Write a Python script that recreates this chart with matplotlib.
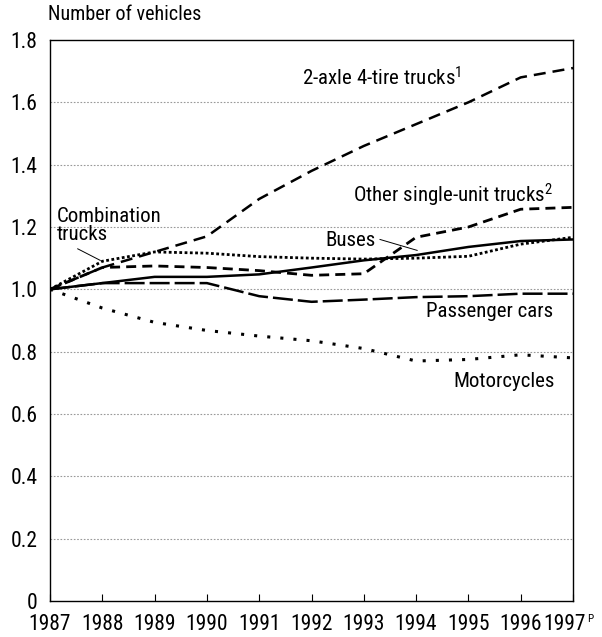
import matplotlib
matplotlib.use("Agg")
import matplotlib.pyplot as plt
from matplotlib import font_manager

years = [1987, 1988, 1989, 1990, 1991, 1992, 1993, 1994, 1995, 1996, 1997]
year_labels = ["1987", "1988", "1989", "1990", "1991", "1992", "1993", "1994", "1995", "1996", ""]
two_axle = [1.00, 1.07, 1.12, 1.17, 1.29, 1.38, 1.46, 1.53, 1.60, 1.68, 1.71]
other_single = [1.00, 1.07, 1.075, 1.07, 1.06, 1.045, 1.05, 1.167, 1.20, 1.257, 1.263]
combination = [1.00, 1.09, 1.12, 1.116, 1.105, 1.10, 1.097, 1.10, 1.106, 1.145, 1.167]
buses = [1.00, 1.02, 1.04, 1.04, 1.048, 1.07, 1.093, 1.11, 1.136, 1.155, 1.16]
passenger = [1.00, 1.02, 1.02, 1.02, 0.978, 0.96, 0.967, 0.975, 0.978, 0.986, 0.986]
motorcycles = [1.00, 0.94, 0.894, 0.868, 0.85, 0.835, 0.81, 0.77, 0.775, 0.79, 0.78]
yticks = [0, 0.2, 0.4, 0.6, 0.8, 1.0, 1.2, 1.4, 1.6, 1.8]
ytick_labels = ["0", "0.2", "0.4", "0.6", "0.8", "1.0", "1.2", "1.4", "1.6", "1.8"]

names = {f.name for f in font_manager.fontManager.ttflist}
candidates = ["Liberation Sans Narrow", "Arial Narrow", "Roboto Condensed", "PT Sans Narrow",
              "Archivo Narrow", "Pragati Narrow", "Fira Sans Condensed", "IBM Plex Sans Condensed",
              "Encode Sans Condensed", "Open Sans Condensed", "Asap Condensed", "Liberation Sans"]
fam = [f for f in candidates if f in names][:1] + ["DejaVu Sans"]
plt.rcParams["font.family"] = fam
plt.rcParams["mathtext.fontset"] = "custom"
plt.rcParams["mathtext.rm"] = fam[0]
plt.rcParams["mathtext.it"] = fam[0]

fig = plt.figure(figsize=(6.02, 6.37), dpi=100)
ax = fig.add_axes([50/602, 36/637, 523/602, 561/637])

ax.plot(years, two_axle, color="black", lw=1.8, linestyle=(0, (4.8, 2.8)))
ax.plot(years, other_single, color="black", lw=2.0, linestyle=(0, (3.6, 2.2)))
ax.plot(years, combination, color="black", lw=2.0, linestyle=(0, (1, 0.9)))
ax.plot(years, buses, color="black", lw=1.8, linestyle="-")
ax.plot(years, passenger, color="black", lw=1.8, linestyle=(0, (8, 2)))
ax.plot(years, motorcycles, color="black", lw=2.2, linestyle=(0, (1, 3.3)))

ax.set_xlim(1987, 1997)
ax.set_ylim(0, 1.8)
ax.set_yticks(yticks)
ax.set_yticklabels(ytick_labels)
ax.set_xticks(years)
ax.set_xticklabels(year_labels)
ax.tick_params(axis="y", length=0, labelsize=15.5, pad=9)
ax.tick_params(axis="x", direction="in", length=5, width=0.8, labelsize=15.5, pad=9.5)
ax.annotate("1997", xy=(1997, 0), xytext=(-8, -13), textcoords="offset pixels",
            ha="center", va="top", fontsize=15.5, annotation_clip=False)
ax.annotate("P", xy=(1997, 0), xytext=(14, -13), textcoords="offset pixels",
            ha="left", va="top", fontsize=8, annotation_clip=False)
for y in yticks[1:-1]:
    ax.axhline(y, color="#999999", lw=0.8, linestyle=(0, (1.5, 1.5)), zorder=0)
for s in ax.spines.values():
    s.set_linewidth(1.0)

fig.text(48/602, 1 - 14/637, "Number of vehicles", fontsize=14.5, va="center", ha="left")

fs = 15
ax.text(1991.82, 1.678, "2-axle 4-tire trucks$^{\\mathregular{1}}$", fontsize=fs, ha="left", va="center")
ax.text(1992.79, 1.30, "Other single-unit trucks$^{\\mathregular{2}}$", fontsize=fs, ha="left", va="center")
ax.text(1987.13, 1.206, "Combination\ntrucks", fontsize=fs, ha="left", va="center", linespacing=0.95)
ax.plot([1987.53, 1987.96], [1.13, 1.093], color="black", lw=0.7)
ax.text(1992.26, 1.158, "Buses", fontsize=fs, ha="left", va="center")
ax.plot([1993.31, 1994.02], [1.16, 1.125], color="black", lw=0.7)
ax.text(1994.19, 0.930, "Passenger cars", fontsize=fs, ha="left", va="center")
ax.text(1994.71, 0.703, "Motorcycles", fontsize=fs, ha="left", va="center")

fig.savefig("out.png", dpi=100)
